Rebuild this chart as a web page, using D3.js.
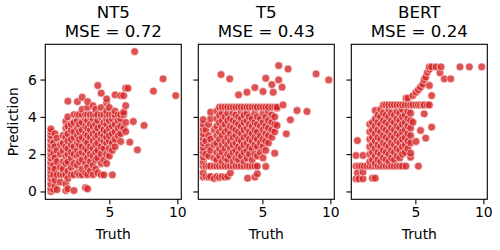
<!DOCTYPE html>
<html><head><meta charset="utf-8">
<script src="https://cdn.jsdelivr.net/npm/d3@7"></script>
<style>body{margin:0;background:#fff}svg{display:block}text{font-family:"DejaVu Sans",sans-serif;fill:#000}</style>
</head><body><svg id="c" width="500" height="250"></svg>
<script>
const models = ["NT5", "T5", "BERT"];
const mseValues = ["0.72", "0.43", "0.24"];
const xTicks = [5, 10];
const yTicks = [0, 2, 4, 6];

// [truth, [predictions...]] columns
const nt5Cols = [
 [0.7,[0.0,0.15,0.4,0.7,0.9,1.1,1.3,1.55,1.8,2.0,2.25,2.5,2.75,3.0,3.2,3.35]],
 [0.9,[0.1,0.9,1.4,2.0,2.6]],
 [1.0,[0.3,0.6,1.2,1.8,2.4,3.1]],
 [1.15,[0.1,0.9,1.6,2.2,2.86]],
 [1.4,[0.5,0.9,1.3,2.0,2.5]],
 [1.6,[0.9,1.2,1.6,2.2,2.6,3.0]],
 [1.8,[0.05,0.4,0.9,1.5,1.9,2.4,2.9,3.4,3.75]],
 [1.95,[0.14,0.7,1.1,1.6,2.0,2.3,2.7,3.1,3.5,4.0,4.84]],
 [2.2,[0.9,1.3,1.8,2.1,2.5,2.8,3.3,3.6]],
 [2.4,[0.05,0.9,1.5,2.0,2.4,2.9,3.2,3.7,4.12]],
 [2.65,[1.0,1.4,1.9,2.2,2.6,3.0,3.4,3.8,4.12,4.82]],
 [2.8,[0.9,1.6,2.0,2.5,2.8,3.2,3.6,4.12]],
 [3.0,[0.9,1.2,1.7,2.1,2.4,2.9,3.3,3.7,4.12,4.4,5.05]],
 [3.25,[0.2,1.0,1.5,2.0,2.3,2.7,3.1,3.5,3.9,4.12]],
 [3.4,[0.14,0.9,1.3,1.8,2.2,2.6,3.0,3.4,3.8,4.12,4.5,4.82]],
 [3.6,[1.1,1.6,2.0,2.4,2.9,3.3,3.6,4.0,4.12]],
 [3.8,[0.9,1.4,1.9,2.3,2.7,3.1,3.5,3.9,4.12,4.6]],
 [4.0,[1.2,1.7,2.1,2.5,2.9,3.2,3.6,4.12,4.4]],
 [4.15,[1.0,1.8,2.2,2.6,3.0,3.4,3.8,4.12,5.68]],
 [4.4,[0.9,1.5,2.0,2.4,2.8,3.1,3.5,4.0,4.12,4.5,5.27]],
 [4.6,[0.89,1.7,2.3,2.7,3.0,3.3,3.7,4.12]],
 [4.8,[1.5,2.0,2.6,2.9,3.2,3.6,3.9,4.12,4.3,4.75,4.96]],
 [5.0,[1.9,2.3,2.7,3.0,3.4,3.8,4.12,4.5]],
 [5.22,[0.89,2.2,2.6,3.1,3.5,3.9,4.12]],
 [5.42,[2.4,2.8,3.2,3.6,4.0,4.12,4.3,5.18]],
 [5.65,[3.0,3.4,3.8,4.12]],
 [5.83,[2.68,3.1,3.5,3.89,4.12,5.14]],
 [6.05,[3.4,4.12,4.25,5.14]],
 [6.2,[3.21,3.7,4.6,5.54]],
 [6.37,[5.54]],
 [6.5,[2.64]],
 [6.76,[3.75]],
 [6.86,[7.5]],
 [7.06,[2.23]],
 [7.55,[3.54]],
 [8.24,[5.38]],
 [8.95,[6.04]],
 [9.88,[5.14]]
];

const t5Cols = [
 [0.65,[0.77,1.0,1.36,1.6,1.85,2.1,2.35,2.6,2.85,3.1,3.35,3.6,3.85]],
 [0.85,[0.8,1.36,2.0,2.7,3.3]],
 [1.05,[0.77,1.36,1.9,2.4,3.0,3.6]],
 [1.2,[0.8,1.36,2.2,2.8,3.9,4.25]],
 [1.45,[0.7,1.36,1.8,2.5,3.3]],
 [1.65,[0.8,1.36,1.7,2.1,2.6,3.0,3.5,3.9,4.3]],
 [1.85,[0.75,1.36,1.9,2.3,2.8,3.2,3.7,4.1,4.52]],
 [1.96,[6.27]],
 [2.05,[0.8,1.36,1.6,2.1,2.5,3.0,3.4,3.8,4.2,4.52]],
 [2.25,[0.77,1.36,1.8,2.3,2.7,3.2,3.6,4.0,4.52]],
 [2.45,[0.8,1.36,1.7,2.0,2.5,2.9,3.3,3.8,4.2,4.52]],
 [2.6,[6.04]],
 [2.65,[1.0,1.36,1.9,2.3,2.7,3.1,3.5,3.9,4.52]],
 [2.85,[1.36,1.6,2.1,2.5,2.9,3.4,3.8,4.2,4.52]],
 [3.05,[1.36,1.8,2.2,2.6,3.0,3.3,3.7,4.1,4.52]],
 [3.25,[1.36,1.7,2.0,2.4,2.8,3.2,3.6,4.0,4.52,5.18]],
 [3.45,[1.36,1.9,2.3,2.7,3.1,3.5,3.9,4.3,4.52]],
 [3.65,[1.36,1.6,2.1,2.5,2.9,3.3,3.7,4.1,4.52]],
 [3.87,[1.36,1.8,2.2,2.6,3.0,3.4,3.8,4.2,4.52,5.32]],
 [3.92,[0.71]],
 [4.05,[1.36,2.0,2.4,2.8,3.2,3.6,4.0,4.52]],
 [4.25,[1.36,1.7,2.3,2.7,3.1,3.5,3.9,4.52]],
 [4.45,[0.77,1.36,2.0,2.5,2.9,3.3,3.7,4.2,4.52,5.57]],
 [4.63,[0.95,1.36,1.9,2.4,2.8,3.2,3.6,4.0,4.52]],
 [4.85,[2.1,2.6,3.0,3.5,3.9,4.52]],
 [5.05,[1.8,2.4,2.8,3.3,3.7,4.2,4.52,5.36]],
 [5.25,[1.34,2.2,2.7,3.1,3.5,4.0,4.52,6.07]],
 [5.45,[2.6,3.0,3.4,3.8,4.3,4.52]],
 [5.7,[2.9,3.3,3.7,4.1,4.52,5.73]],
 [5.8,[5.32]],
 [5.91,[2.05,3.2,3.6,4.0,4.52]],
 [6.08,[3.54,4.46,4.52]],
 [6.2,[5.98,6.75]],
 [6.45,[5.59]],
 [6.52,[4.64]],
 [6.76,[3.09]],
 [6.89,[6.57]],
 [7.06,[3.84]],
 [7.55,[4.34]],
 [8.28,[4.29]],
 [8.95,[6.3]],
 [9.88,[5.98]]
];

const bertCols = [
 [0.64,[0.68,1.36,1.93]],
 [0.74,[1.0,2.73]],
 [0.85,[0.68,1.36]],
 [1.05,[1.36]],
 [1.15,[0.68,1.04,1.93]],
 [1.25,[1.36]],
 [1.45,[1.36]],
 [1.65,[1.36,1.6,2.0,2.4,2.8,3.2,3.6]],
 [1.85,[0.71,1.36,1.7,2.1,2.5,2.9,3.3,3.7]],
 [2.05,[0.71,1.36,1.5,1.9,2.3,2.7,3.1,3.5,3.9,4.34]],
 [2.25,[1.36,1.7,2.1,2.5,2.9,3.3,3.7,4.1]],
 [2.45,[1.36,1.6,2.0,2.4,2.8,3.2,3.6,4.0,4.4]],
 [2.65,[1.36,1.8,2.2,2.6,3.0,3.4,3.8,4.2,4.64]],
 [2.85,[1.36,1.7,2.1,2.5,2.9,3.3,3.7,4.1,4.64]],
 [3.05,[1.36,1.6,2.0,2.4,2.8,3.2,3.6,4.0,4.4,4.64]],
 [3.25,[1.36,1.8,2.2,2.6,3.0,3.4,3.8,4.2,4.64]],
 [3.45,[1.36,1.7,2.1,2.5,2.9,3.3,3.7,4.1,4.64]],
 [3.65,[1.36,1.9,2.3,2.7,3.1,3.5,3.9,4.3,4.64]],
 [3.85,[1.36,1.8,2.2,2.6,3.0,3.4,3.8,4.2,4.64]],
 [4.05,[1.36,2.0,2.4,2.8,3.2,3.6,4.0,4.4,4.64]],
 [4.25,[2.1,2.5,2.9,3.3,3.7,4.1,4.64]],
 [4.31,[1.36,5.0]],
 [4.45,[2.3,2.7,3.1,3.5,3.9,4.3,4.64,5.0]],
 [4.65,[1.84,2.05,2.6,3.0,3.4,3.8,4.2,4.64]],
 [4.82,[3.71,4.64,5.14]],
 [5.05,[2.68,4.64,5.32]],
 [5.22,[1.36,4.64,5.45]],
 [5.38,[3.27,4.64,5.59]],
 [5.55,[4.64,5.75]],
 [5.65,[4.16,4.64,6.0]],
 [5.76,[2.86,6.13]],
 [5.88,[4.64,6.39]],
 [6.03,[4.64,5.68,6.55,6.68]],
 [6.2,[3.45,5.14,6.68]],
 [6.52,[6.68]],
 [6.81,[6.36]],
 [6.89,[6.68]],
 [7.13,[6.04]],
 [7.6,[6.04]],
 [8.28,[6.68]],
 [8.97,[6.68]],
 [9.88,[6.68]]
];

const panelData = [nt5Cols, t5Cols, bertCols].map(cols =>
  cols.flatMap(([t, ps]) => ps.map(p => ({truth: t, pred: p}))));

const svg = d3.select("#c");
const W = 136, yTop = 44.3, yBottom = 199.3;
const lefts = [45.3, 198.3, 351.3];
const y = d3.scaleLinear().domain([-0.42, 7.89]).range([yBottom, yTop]);
const col = "#d62728";

models.forEach((m, i) => {
  const x = d3.scaleLinear().domain([0.29, 10.29]).range([lefts[i], lefts[i] + W]);
  const g = svg.append("g");
  const cx = lefts[i] + W / 2;

  g.append("defs").append("clipPath").attr("id", "clip" + i)
    .append("rect").attr("x", lefts[i]).attr("y", yTop).attr("width", W).attr("height", yBottom - yTop);

  g.append("g").attr("clip-path", `url(#clip${i})`)
    .selectAll("circle").data(panelData[i]).join("circle")
    .attr("cx", d => x(d.truth)).attr("cy", d => y(d.pred)).attr("r", 3.9)
    .attr("fill", col).attr("fill-opacity", 0.8)
    .attr("stroke", "#fff").attr("stroke-opacity", 0.8).attr("stroke-width", 0.7);

  const xa = g.append("g").attr("transform", `translate(0,${yBottom})`)
    .call(d3.axisBottom(x).tickValues(xTicks).tickSize(4.9).tickPadding(3.3).tickFormat(d3.format("d")));
  const ya = g.append("g").attr("transform", `translate(${lefts[i]},0)`)
    .call(d3.axisLeft(y).tickValues(yTicks).tickSize(4.9).tickPadding(3.5)
      .tickFormat(i === 0 ? d3.format("d") : () => ""));
  [xa, ya].forEach(a => {
    a.select(".domain").remove();
    a.selectAll(".tick line").attr("stroke", "#000").attr("stroke-width", 1.1);
    a.selectAll(".tick text").attr("font-size", 13.9).attr("font-family", "DejaVu Sans").attr("fill", "#000");
  });

  g.append("rect").attr("x", lefts[i]).attr("y", yTop).attr("width", W).attr("height", yBottom - yTop)
    .attr("fill", "none").attr("stroke", "#000").attr("stroke-width", 1.1);

  g.append("text").attr("x", cx).attr("y", 17.8).attr("text-anchor", "middle")
    .attr("font-size", 16.67).text(m);
  g.append("text").attr("x", cx).attr("y", 36.9).attr("text-anchor", "middle")
    .attr("font-size", 16.67).text("MSE = " + mseValues[i]);
  g.append("text").attr("x", cx).attr("y", 239).attr("text-anchor", "middle")
    .attr("font-size", 13.9).text("Truth");
});

svg.append("text").attr("transform", `translate(18,${(yTop + yBottom) / 2}) rotate(-90)`)
  .attr("text-anchor", "middle").attr("font-size", 13.9).text("Prediction");
</script></body></html>
